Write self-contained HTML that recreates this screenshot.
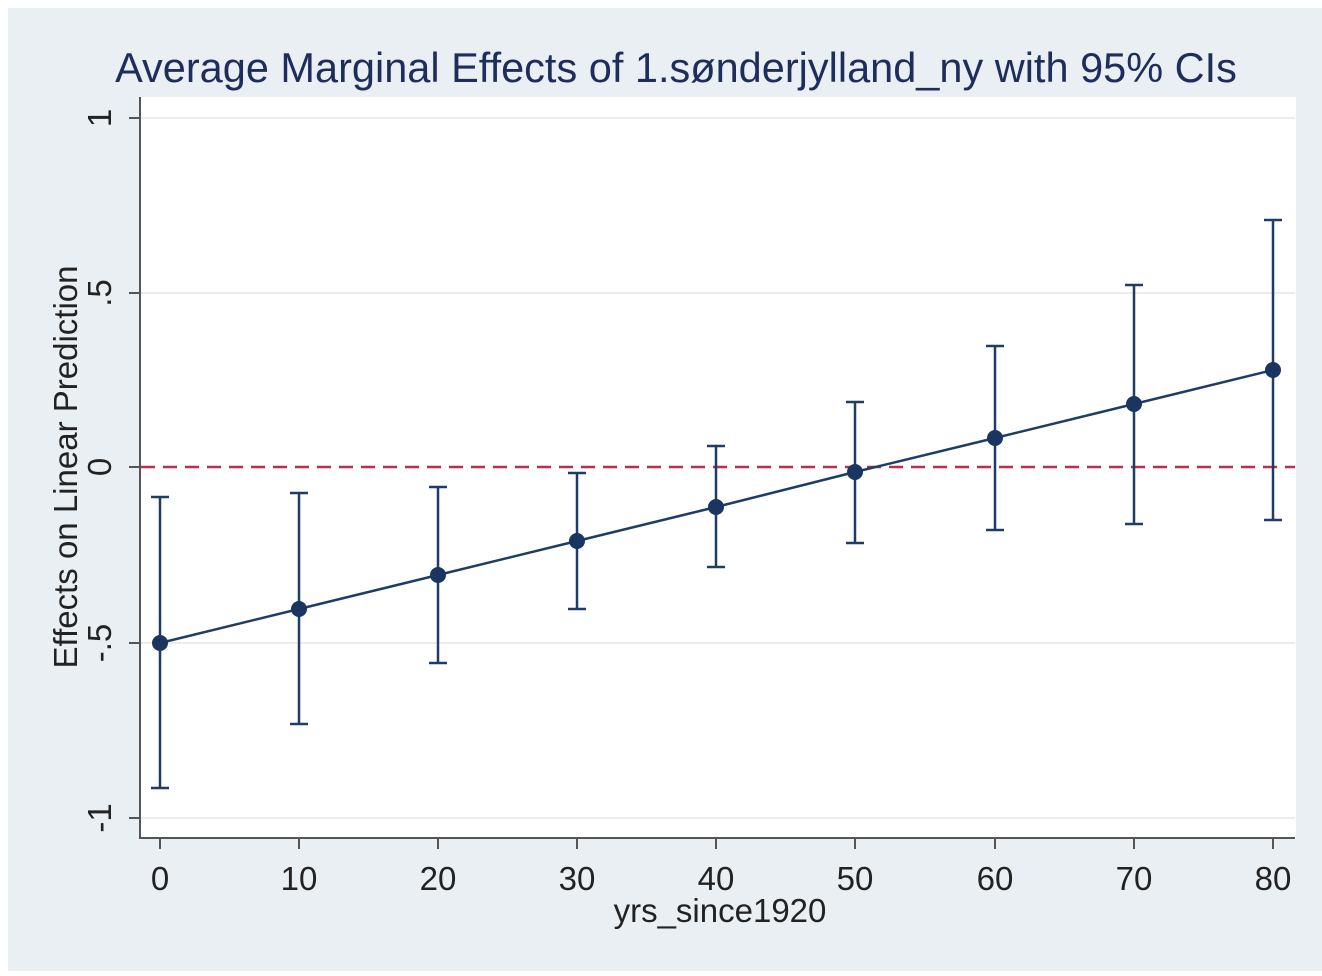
<!DOCTYPE html><html><head><style>body{margin:0;background:#fff}</style></head><body>
<svg width="1322" height="971" xmlns="http://www.w3.org/2000/svg" font-family="Liberation Sans, sans-serif">
<rect x="8" y="8" width="1314" height="963" fill="#eaeff3"/>
<rect x="140" y="97" width="1156" height="741" fill="#fff"/>
<g stroke="#ececec" stroke-width="2">
<line x1="141" x2="1295" y1="118" y2="118"/><line x1="141" x2="1295" y1="293" y2="293"/><line x1="141" x2="1295" y1="643" y2="643"/><line x1="141" x2="1295" y1="818" y2="818"/></g>
<line x1="141" x2="1295" y1="467" y2="467" stroke="#b8304e" stroke-width="2.5" stroke-dasharray="14,8"/>
<g stroke="#555" stroke-width="2">
<line x1="140" y1="97" x2="140" y2="839"/><line x1="139" y1="838" x2="1295" y2="838"/>
<line x1="129" x2="140" y1="118" y2="118"/><line x1="129" x2="140" y1="293" y2="293"/><line x1="129" x2="140" y1="467" y2="467"/><line x1="129" x2="140" y1="643" y2="643"/><line x1="129" x2="140" y1="818" y2="818"/>
<line y1="838" y2="849" x1="160" x2="160"/><line y1="838" y2="849" x1="299" x2="299"/><line y1="838" y2="849" x1="438" x2="438"/><line y1="838" y2="849" x1="577" x2="577"/><line y1="838" y2="849" x1="716" x2="716"/><line y1="838" y2="849" x1="855" x2="855"/><line y1="838" y2="849" x1="995" x2="995"/><line y1="838" y2="849" x1="1134" x2="1134"/><line y1="838" y2="849" x1="1273" x2="1273"/></g>
<g stroke="#1e3d66" stroke-width="2.5" fill="none">
<path d="M160 497V788M151 497H169M151 788H169"/>
<path d="M299 493V724M290 493H308M290 724H308"/>
<path d="M438 487V663M429 487H447M429 663H447"/>
<path d="M577 473V609M568 473H586M568 609H586"/>
<path d="M716 446V567M707 446H725M707 567H725"/>
<path d="M855 402V543M846 402H864M846 543H864"/>
<path d="M995 346V530M986 346H1004M986 530H1004"/>
<path d="M1134 285V524M1125 285H1143M1125 524H1143"/>
<path d="M1273 220V520M1264 220H1282M1264 520H1282"/>
<polyline points="160,643 299,609 438,575 577,541 716,507 855,472 995,438 1134,404 1273,370"/></g>
<g fill="#1a3560">
<circle cx="160" cy="643" r="8"/><circle cx="299" cy="609" r="8"/><circle cx="438" cy="575" r="8"/><circle cx="577" cy="541" r="8"/><circle cx="716" cy="507" r="8"/><circle cx="855" cy="472" r="8"/><circle cx="995" cy="438" r="8"/><circle cx="1134" cy="404" r="8"/><circle cx="1273" cy="370" r="8"/></g>
<text x="676" y="82" text-anchor="middle" font-size="41.5" fill="#1e2e5c">Average Marginal Effects of 1.sønderjylland_ny with 95% CIs</text>
<g font-size="33" fill="#222" text-anchor="middle">
<text x="160" y="890">0</text><text x="299" y="890">10</text><text x="438" y="890">20</text><text x="577" y="890">30</text><text x="716" y="890">40</text><text x="855" y="890">50</text><text x="995" y="890">60</text><text x="1134" y="890">70</text><text x="1273" y="890">80</text>
<text x="720" y="922">yrs_since1920</text>
<text transform="translate(111,118) rotate(-90)">1</text>
<text transform="translate(111,293) rotate(-90)">.5</text>
<text transform="translate(111,467) rotate(-90)">0</text>
<text transform="translate(111,643) rotate(-90)">-.5</text>
<text transform="translate(111,818) rotate(-90)">-1</text>
<text transform="translate(77,467) rotate(-90)">Effects on Linear Prediction</text>
</g>
</svg>
</body></html>
